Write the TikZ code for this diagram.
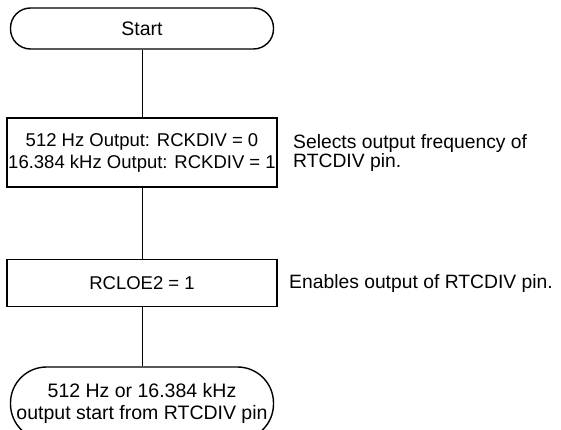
\documentclass[tikz,border=0pt]{standalone}
\usepackage{fontspec}
\setmainfont{Liberation Sans}
\usepackage{tikz}

\begin{document}
\begin{tikzpicture}[x=1pt,y=-1pt,
  term/.style={draw,line width=1.4pt,rounded corners=20pt,minimum width=263pt,
    inner sep=0pt,align=center,font=\fontsize{19.5}{22}\selectfont},
  proc/.style={draw,line width=1.4pt,minimum width=270pt,inner sep=0pt,
    align=center,font=\fontsize{18.5}{22}\selectfont},
  note/.style={anchor=west,inner sep=0pt,align=left,font=\fontsize{19.3}{17.5}\selectfont},
  link/.style={line width=1pt}]
\useasboundingbox (0,0) rectangle (561,430);
\node[term,minimum height=41pt] (start) at (142,28.5) {Start};
\node[proc,minimum height=69pt] (rckdiv) at (142,152.5)
  {512 Hz Output: RCKDIV = 0\\16.384 kHz Output: RCKDIV = 1};
\node[proc,minimum height=47pt] (rcloe) at (142,283) {RCLOE2 = 1};
\node[term,rounded corners=36pt,minimum height=73pt] (outstart) at (142,403.5)
  {512 Hz or 16.384 kHz\\output start from RTCDIV pin};
\node[note] (selnote) at (293,153) {Selects output frequency of\\RTCDIV pin.};
\node[note] (ennote) at (289,284) {Enables output of RTCDIV pin.};
\draw[link] (start) -- (rckdiv);
\draw[link] (rckdiv) -- (rcloe);
\draw[link] (rcloe) -- (outstart);
\end{tikzpicture}
\end{document}
